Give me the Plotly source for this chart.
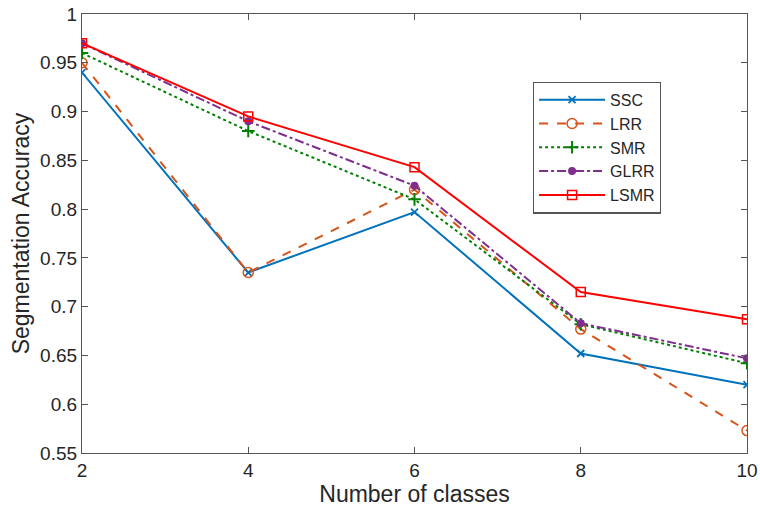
import plotly.graph_objects as go

classes = [2, 4, 6, 8, 10]
ssc = [0.940, 0.735, 0.797, 0.652, 0.620]
lrr = [0.950, 0.735, 0.820, 0.677, 0.573]
smr = [0.960, 0.880, 0.810, 0.682, 0.642]
glrr = [0.970, 0.890, 0.824, 0.683, 0.647]
lsmr = [0.970, 0.895, 0.843, 0.715, 0.687]

y_ticks = [0.55, 0.6, 0.65, 0.7, 0.75, 0.8, 0.85, 0.9, 0.95, 1]
y_tick_text = ["0.55", "0.6", "0.65", "0.7", "0.75", "0.8", "0.85", "0.9", "0.95", "1"]

series = [
    ("SSC", ssc, "#0072BD", "solid", dict(symbol="x-thin", size=7, line=dict(width=1.8, color="#0072BD"))),
    ("LRR", lrr, "#D95319", "dash", dict(symbol="circle-open", size=10, line=dict(width=1.5, color="#D95319"))),
    ("SMR", smr, "#008000", "dot", dict(symbol="cross-thin", size=9, line=dict(width=2, color="#008000"))),
    ("GLRR", glrr, "#7E2F8E", "dashdot", dict(symbol="circle", size=8)),
    ("LSMR", lsmr, "#FF0000", "solid", dict(symbol="square-open", size=9, line=dict(width=1.5, color="#FF0000"))),
]

fig = go.Figure()
for name, vals, col, dash, mk in series:
    fig.add_trace(go.Scatter(
        x=classes, y=vals, name=name, mode="lines+markers",
        line=dict(color=col, dash=dash, width=2),
        marker=dict(color=col, **mk),
    ))

axis_common = dict(
    showline=True, linecolor="#555555", linewidth=1.2, mirror="ticks",
    ticks="inside", ticklen=6, tickcolor="#555555", showgrid=False, zeroline=False,
    automargin=False,
    tickfont=dict(family="Liberation Sans, Arial, sans-serif", size=19, color="#262626"),
)

fig.update_layout(
    width=760, height=508,
    margin=dict(l=82, r=13, t=14, b=55),
    paper_bgcolor="white", plot_bgcolor="white",
    font=dict(family="Liberation Sans, Arial, sans-serif", color="#262626"),
    xaxis=dict(range=[2, 10], tickvals=classes, ticktext=[str(c) for c in classes],
               title=dict(text="Number of classes", font=dict(size=23), standoff=4), **axis_common),
    yaxis=dict(range=[0.55, 1], tickvals=y_ticks, ticktext=y_tick_text,
               title=dict(text="Segmentation Accuracy", font=dict(size=23), standoff=4), **axis_common),
    legend=dict(x=0.678, y=0.846, xanchor="left", yanchor="top",
                bordercolor="#555555", borderwidth=1.2, bgcolor="white",
                font=dict(size=16, color="#262626"), tracegroupgap=0, itemwidth=66),
    showlegend=True,
)

fig.write_html("out.html")
